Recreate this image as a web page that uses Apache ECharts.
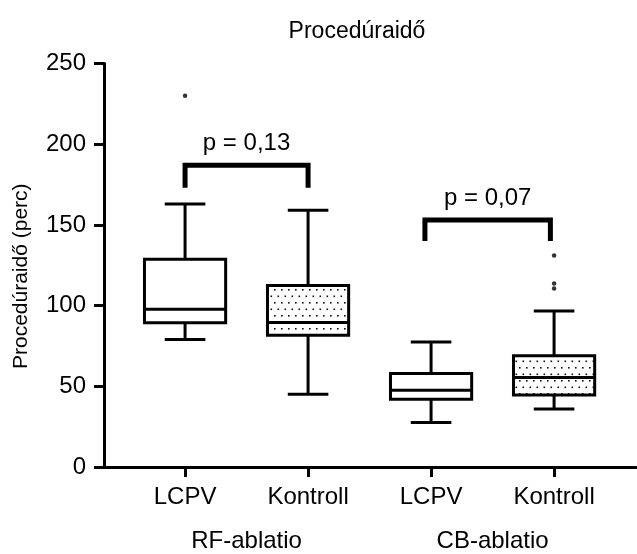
<!DOCTYPE html>
<html>
<head>
<meta charset="utf-8">
<script src="https://cdn.jsdelivr.net/npm/echarts@6/dist/echarts.min.js"></script>
<style>
  html, body { margin: 0; padding: 0; background: #fff; }
  #chart { width: 637px; height: 554px; }
</style>
</head>
<body>
<div id="chart"></div>
<script>
// kategóriák és csoportok
var categories = ['LCPV', 'Kontroll', 'LCPV', 'Kontroll'];
var groups = ['RF-ablatio', 'CB-ablatio'];
var categoryPos = [1, 2, 3, 4];
var groupPos = [1.5, 3.5];

// box plot értékek (perc)
var boxMin = [79, 45, 27.6, 36];
var boxQ1 = [89.3, 81.7, 42, 44.6];
var boxMedian = [97.8, 89.5, 47.6, 55.5];
var boxQ3 = [128.7, 112.5, 58, 69];
var boxMax = [163, 159, 77.5, 96.7];
var dotted = [0, 1, 0, 1];

// kiugró értékek [kategória, érték]
var outliers = [[1, 230], [4, 131], [4, 113.7], [4, 110.6]];

// szignifikancia jelölések
var pLabels = ['p = 0,13', 'p = 0,07'];
var bracketFrom = [1, 2.95];
var bracketTo = [2, 3.97];
var bracketTop = [187, 153];
var bracketLeg = [173, 140];

var yTicks = [0, 50, 100, 150, 200, 250];

var FONT = "'Liberation Sans', Arial, sans-serif";

// pöttyös kitöltés mintája
var tile = document.createElement('canvas');
tile.width = 7;
tile.height = 13;
var tctx = tile.getContext('2d');
tctx.fillStyle = '#111';
tctx.fillRect(1, 3, 1.6, 1.6);
tctx.fillRect(4.5, 9.5, 1.6, 1.6);
var dotPattern = { image: tile, repeat: 'repeat' };

var boxData = categoryPos.map(function (x, i) {
    return [x, boxMin[i], boxQ1[i], boxMedian[i], boxQ3[i], boxMax[i], dotted[i]];
});
var bracketData = pLabels.map(function (p, i) {
    return [bracketFrom[i], bracketTo[i], bracketTop[i], bracketLeg[i], i];
});

function renderBox(params, api) {
    var x = api.value(0);
    var pMin = api.coord([x, api.value(1)]);
    var pQ1 = api.coord([x, api.value(2)]);
    var pMed = api.coord([x, api.value(3)]);
    var pQ3 = api.coord([x, api.value(4)]);
    var pMax = api.coord([x, api.value(5)]);
    var bw = api.size([0.66, 0])[0];
    var cw = api.size([0.33, 0])[0];
    var cx = pMed[0];
    var line = { stroke: '#000', lineWidth: 3 };
    return {
        type: 'group',
        children: [
            { type: 'line', shape: { x1: cx, y1: pMax[1], x2: cx, y2: pQ3[1] }, style: line },
            { type: 'line', shape: { x1: cx, y1: pQ1[1], x2: cx, y2: pMin[1] }, style: line },
            { type: 'line', shape: { x1: cx - cw / 2, y1: pMax[1], x2: cx + cw / 2, y2: pMax[1] }, style: line },
            { type: 'line', shape: { x1: cx - cw / 2, y1: pMin[1], x2: cx + cw / 2, y2: pMin[1] }, style: line },
            {
                type: 'rect',
                shape: { x: cx - bw / 2, y: pQ3[1], width: bw, height: pQ1[1] - pQ3[1] },
                style: { fill: api.value(6) ? dotPattern : '#fff', stroke: '#000', lineWidth: 3 }
            },
            { type: 'line', shape: { x1: cx - bw / 2, y1: pMed[1], x2: cx + bw / 2, y2: pMed[1] }, style: line }
        ]
    };
}

function renderBracket(params, api) {
    var a = api.coord([api.value(0), api.value(3)]);
    var b = api.coord([api.value(0), api.value(2)]);
    var c = api.coord([api.value(1), api.value(2)]);
    var d = api.coord([api.value(1), api.value(3)]);
    return {
        type: 'group',
        children: [
            {
                type: 'polyline',
                shape: { points: [a, b, c, d] },
                style: { stroke: '#000', lineWidth: 5, fill: null, lineJoin: 'miter', lineCap: 'butt' }
            },
            {
                type: 'text',
                style: {
                    text: pLabels[api.value(4)],
                    x: (b[0] + c[0]) / 2,
                    y: b[1] - 22,
                    align: 'center',
                    verticalAlign: 'middle',
                    fill: '#000',
                    font: '24px ' + FONT
                }
            }
        ]
    };
}

var chart = echarts.init(document.getElementById('chart'));
chart.setOption({
    animation: false,
    backgroundColor: '#fff',
    title: {
        text: 'Procedúraidő',
        left: 352,
        top: 15,
        textAlign: 'center',
        textStyle: { fontFamily: FONT, fontSize: 23, fontWeight: 'normal', color: '#000' }
    },
    grid: { left: 104, right: 1, top: 63.5, bottom: 87, containLabel: false },
    xAxis: [{
        type: 'value',
        min: 0.341,
        max: 4.666,
        axisLine: { show: true, lineStyle: { color: '#000', width: 3 } },
        axisTick: { show: true, customValues: categoryPos, length: 10, lineStyle: { color: '#000', width: 3 } },
        axisLabel: {
            customValues: categoryPos,
            margin: 18,
            fontFamily: FONT,
            fontSize: 24,
            color: '#000',
            formatter: function (v) { return categories[categoryPos.indexOf(Math.round(v))] || ''; }
        },
        splitLine: { show: false }
    }, {
        type: 'value',
        position: 'bottom',
        min: 0.341,
        max: 4.666,
        axisLine: { show: false },
        axisTick: { show: false },
        axisLabel: {
            customValues: groupPos,
            margin: 62,
            fontFamily: FONT,
            fontSize: 24,
            color: '#000',
            formatter: function (v) { return groups[groupPos.indexOf(v)] || ''; }
        },
        splitLine: { show: false }
    }],
    yAxis: {
        type: 'value',
        min: yTicks[0],
        max: yTicks[yTicks.length - 1],
        interval: 50,
        name: 'Procedúraidő (perc)',
        nameLocation: 'middle',
        nameGap: 72,
        nameTextStyle: { fontFamily: FONT, fontSize: 21, color: '#000', padding: [0, 22, 0, 0] },
        axisLine: { show: true, lineStyle: { color: '#000', width: 3 } },
        axisTick: { show: true, length: 10, lineStyle: { color: '#000', width: 3 } },
        axisLabel: { margin: 18, fontFamily: FONT, fontSize: 24, color: '#000' },
        splitLine: { show: false }
    },
    series: [{
        type: 'custom',
        renderItem: renderBox,
        data: boxData,
        encode: { x: 0, y: [1, 5] },
        z: 2
    }, {
        type: 'scatter',
        data: outliers,
        symbol: 'circle',
        symbolSize: 4.5,
        itemStyle: { color: '#000' },
        z: 3
    }, {
        type: 'custom',
        renderItem: renderBracket,
        data: bracketData,
        encode: { x: [0, 1], y: [2, 3] },
        z: 3
    }]
});
</script>
</body>
</html>
